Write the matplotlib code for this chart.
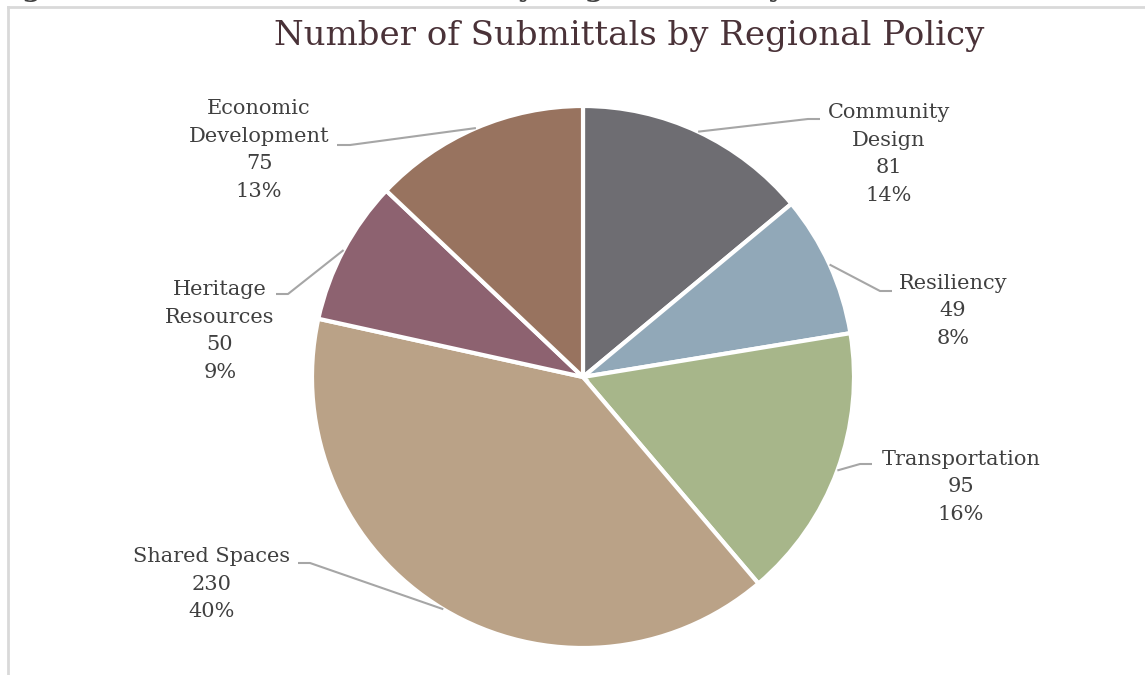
import numpy as np
import matplotlib.pyplot as plt

categories = ["Community\nDesign", "Resiliency", "Transportation",
              "Shared Spaces", "Heritage\nResources", "Economic\nDevelopment"]
counts = [81, 49, 95, 230, 50, 75]
colors = ["#6e6d72", "#91a8b8", "#a7b68a", "#baa287", "#8d6270", "#98735f"]

# label placement in pixels (x, y of text centre), elbow and end of leader
label_pos = [(889, 154), (953, 311), (961, 487), (212, 584), (220, 331), (259, 150)]
leader_elbow = [(808, 119), (880, 291), (860, 464), (310, 563), (288, 294), (350, 145)]
leader_end = [(820, 119), (892, 291), (872, 464), (298, 563), (276, 294), (337, 145)]

H = 675
cx, cy, R = 583, 377, 271

plt.rcParams['font.family'] = ['DejaVu Serif']
fig = plt.figure(figsize=(11.45, 6.75), dpi=100)
ax = fig.add_axes([0, 0, 1, 1])
ax.set_xlim(0, 1145)
ax.set_ylim(0, H)
ax.axis('off')

wedges, _ = ax.pie(counts, colors=colors, startangle=90, counterclock=False,
                   center=(cx, H - cy), radius=R,
                   wedgeprops=dict(edgecolor='white', linewidth=3))
ax.set_xlim(0, 1145)
ax.set_ylim(0, H)
ax.set_aspect('equal')

total = sum(counts)
for i, w in enumerate(wedges):
    ang = np.deg2rad((w.theta1 + w.theta2) / 2)
    px = cx + R * np.cos(ang)
    py = (H - cy) + R * np.sin(ang)
    ex, ey = leader_elbow[i]
    tx, ty = leader_end[i]
    ax.plot([px, ex, tx], [py, H - ey, H - ey], color='#a6a6a6', lw=1.5,
            solid_capstyle='butt')
    pct = round(100 * counts[i] / total)
    lx, ly = label_pos[i]
    ax.text(lx, H - ly, f"{categories[i]}\n{counts[i]}\n{pct}%", ha='center',
            va='center', fontsize=15, color='#404040', linespacing=1.58)

ax.text(629, H - 36, "Number of Submittals by Regional Policy", ha='center',
        va='center', fontsize=24.5, color='#4a3238')

# frame and the cut-off caption above it
ax.plot([8, 8], [0, H - 7], color='#d9d9d9', lw=2)
ax.plot([8, 1145], [H - 7, H - 7], color='#d9d9d9', lw=2)
ax.text(-8, H + 4, "Figure 3: Number of Submittals by Regional Policy", ha='left',
        va='baseline', fontsize=20, fontweight='bold', color='#404040')

fig.savefig("out.png", dpi=100)
